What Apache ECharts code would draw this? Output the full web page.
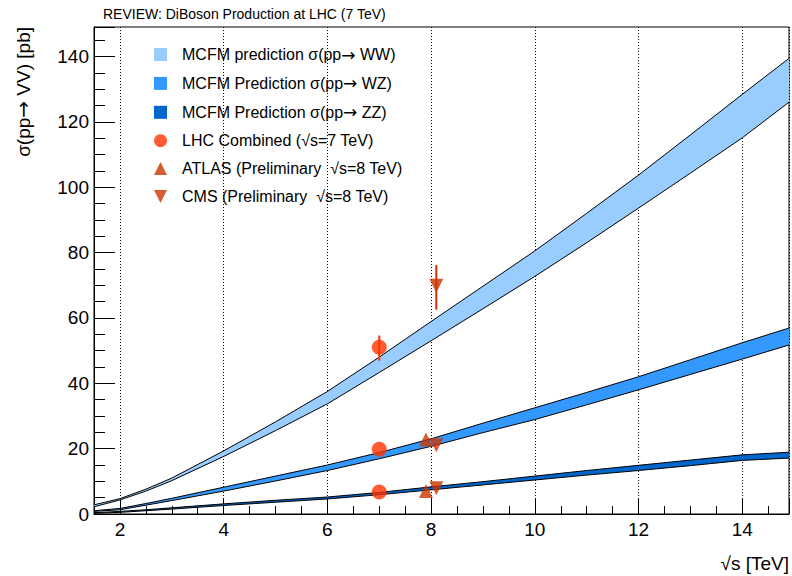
<!DOCTYPE html>
<html>
<head>
<meta charset="utf-8">
<script src="https://cdn.jsdelivr.net/npm/echarts@6/dist/echarts.min.js"></script>
<style>
  html, body { margin: 0; padding: 0; background: #fff; }
  #chart { width: 792px; height: 576px; }
</style>
</head>
<body>
<div id="chart"></div>
<script>
var energies = [1.5, 2, 2.5, 3, 4, 5, 6, 7, 8, 9, 10, 11, 12, 13, 14, 14.9];

var wwHigh = [2.8, 4.7, 7.6, 11.0, 19.3, 28.2, 37.5, 48.0, 58.9, 69.7, 80.5, 92.0, 103.7, 116.0, 128.4, 139.4];
var wwLow  = [2.2, 4.3, 7.0, 10.2, 17.6, 25.5, 33.7, 43.3, 53.0, 62.8, 72.7, 83.0, 93.6, 104.3, 115.1, 126.0];

var wzHigh = [1.0, 1.7, 3.2, 4.8, 8.2, 11.6, 15.0, 18.8, 23.0, 27.8, 32.5, 37.2, 42.0, 47.2, 52.4, 56.9];
var wzLow  = [0.8, 1.3, 2.7, 4.1, 7.0, 10.1, 13.3, 16.9, 20.7, 24.9, 28.9, 33.4, 38.0, 42.7, 47.4, 51.7];

var zzHigh = [0.4, 0.8, 1.3, 1.9, 3.1, 4.2, 5.2, 6.6, 8.3, 9.9, 11.6, 13.3, 14.9, 16.5, 18.1, 18.9];
var zzLow  = [0.2, 0.5, 1.0, 1.5, 2.6, 3.6, 4.6, 5.9, 7.4, 8.9, 10.4, 11.9, 13.3, 14.8, 16.4, 17.1];

// measurements [sqrt(s), sigma]
var lhcPoints   = [[7, 51.0], [7, 19.8], [7, 6.7]];
var atlasPoints = [[7.9, 22.8], [7.9, 7.0]];
var cmsPoints   = [[8.1, 69.8], [8.1, 21.0], [8.1, 7.9]];

// error bars [sqrt(s), low, high]
var lhcErrors = [[7, 46.9, 54.6]];
var cmsErrors = [[8.1, 62.5, 76.2]];

var names = {
  ww: 'MCFM prediction σ(pp→ WW)',
  wz: 'MCFM Prediction σ(pp→ WZ)',
  zz: 'MCFM Prediction σ(pp→ ZZ)',
  lhc: 'LHC Combined (√s=7 TeV)',
  atlas: 'ATLAS (Preliminary  √s=8 TeV)',
  cms: 'CMS (Preliminary  √s=8 TeV)'
};

var font = "'Liberation Sans', Arial, Helvetica, sans-serif";
var arrowFont = "'DejaVu Sans', sans-serif";
var downTri = 'path://M0,0L10,0L5,10Z';

// filled area between the lower and upper edge
function band(name, color, lo, hi) {
  return {
    name: name,
    type: 'custom',
    z: 2,
    silent: true,
    itemStyle: { color: color },
    data: [[energies[0], lo[0]]],
    renderItem: function (params, api) {
      var pts = [];
      for (var i = 0; i < energies.length; i++) pts.push(api.coord([energies[i], hi[i]]));
      for (var j = energies.length - 1; j >= 0; j--) pts.push(api.coord([energies[j], lo[j]]));
      return { type: 'polygon', shape: { points: pts }, style: { fill: color, stroke: null } };
    }
  };
}

function edge(name, vals) {
  return {
    name: name,
    type: 'line',
    z: 3,
    silent: true,
    symbol: 'none',
    lineStyle: { color: '#000', width: 1 },
    data: energies.map(function (e, i) { return [e, vals[i]]; })
  };
}

function errors(name, color, rows) {
  return {
    name: name,
    type: 'custom',
    z: 4,
    silent: true,
    data: rows,
    renderItem: function (params, api) {
      var a = api.coord([api.value(0), api.value(1)]);
      var b = api.coord([api.value(0), api.value(2)]);
      return { type: 'line', shape: { x1: a[0], y1: a[1], x2: b[0], y2: b[1] }, style: { stroke: color, lineWidth: 2 } };
    }
  };
}

function richArrow(text) {
  return text.replace('→', '{a|→}');
}

var chart = echarts.init(document.getElementById('chart'), null, { renderer: 'svg' });
chart.setOption({
  animation: false,
  textStyle: { fontFamily: font },
  title: {
    text: 'REVIEW: DiBoson Production at LHC (7 TeV)',
    left: 103, top: 7, padding: 0,
    textStyle: { fontSize: 14, fontWeight: 'normal', color: '#000', fontFamily: font }
  },
  grid: {
    left: 94, right: 3, top: 27, bottom: 62,
    show: true, borderColor: '#000', borderWidth: 1
  },
  legend: {
    orient: 'vertical',
    left: 149, top: 41,
    itemWidth: 13, itemHeight: 13, itemGap: 11.9,
    selectedMode: false,
    itemStyle: { borderWidth: 0 },
    formatter: richArrow,
    textStyle: {
      fontSize: 16, lineHeight: 16, color: '#000', fontFamily: font, padding: [0, 0, 0, 10],
      rich: { a: { fontFamily: arrowFont, fontSize: 17, lineHeight: 12, color: '#000' } }
    },
    data: [
      { name: names.ww, icon: 'rect' },
      { name: names.wz, icon: 'rect' },
      { name: names.zz, icon: 'rect' },
      { name: names.lhc, icon: 'circle' },
      { name: names.atlas, icon: 'triangle' },
      { name: names.cms, icon: downTri }
    ]
  },
  xAxis: {
    type: 'value',
    min: 1.5, max: 14.9,
    splitNumber: 7,
    axisLine: { lineStyle: { color: '#000', width: 1 } },
    axisTick: { inside: true, length: 15, lineStyle: { color: '#000' } },
    minorTick: { show: true, splitNumber: 4, length: 8, lineStyle: { color: '#000' } },
    axisLabel: {
      fontSize: 19, color: '#000', margin: 6, fontFamily: font,
      formatter: function (v) { return v % 2 === 0 ? String(v) : ''; }
    },
    splitLine: { show: true, lineStyle: { color: '#000', width: 1, type: [1, 2] } }
  },
  yAxis: {
    type: 'value',
    min: 0, max: 149, interval: 20,
    axisLine: { show: true, lineStyle: { color: '#000', width: 1 } },
    axisTick: { show: true, inside: true, length: 21, lineStyle: { color: '#000' } },
    minorTick: { show: true, splitNumber: 4, length: 11, lineStyle: { color: '#000' } },
    axisLabel: {
      fontSize: 19, color: '#000', margin: 5, fontFamily: font,
      formatter: function (v) { return v % 20 === 0 ? String(v) : ''; }
    },
    splitLine: { show: false }
  },
  graphic: [
    {
      type: 'text', x: 23, y: 27, rotation: Math.PI / 2,
      style: {
        text: richArrow('σ(pp→ VV) [pb]'), font: '19px ' + font, fill: '#000', align: 'right', verticalAlign: 'middle',
        rich: { a: { fontFamily: arrowFont, fontSize: 20, fill: '#000' } }
      }
    },
    {
      type: 'text', x: 789, y: 563,
      style: { text: '√s [TeV]', font: '19px ' + font, fill: '#000', align: 'right', verticalAlign: 'middle' }
    }
  ],
  series: [
    band(names.ww, '#99ccff', wwLow, wwHigh),
    band(names.wz, '#3399ff', wzLow, wzHigh),
    band(names.zz, '#0066cc', zzLow, zzHigh),
    edge('ww-high', wwHigh), edge('ww-low', wwLow),
    edge('wz-high', wzHigh), edge('wz-low', wzLow),
    edge('zz-high', zzHigh), edge('zz-low', zzLow),
    errors('lhc-err', '#ff3300', lhcErrors),
    errors('cms-err', '#cc3300', cmsErrors),
    {
      name: names.lhc, type: 'scatter', z: 5, symbol: 'circle', symbolSize: 15,
      itemStyle: { color: '#ff3300' }, data: lhcPoints
    },
    {
      name: names.atlas, type: 'scatter', z: 5, symbol: 'triangle', symbolSize: 14,
      itemStyle: { color: '#cc3300' }, data: atlasPoints
    },
    {
      name: names.cms, type: 'scatter', z: 5, symbol: downTri, symbolSize: 14,
      itemStyle: { color: '#cc3300' }, data: cmsPoints
    }
  ]
});
window.addEventListener('resize', function () { chart.resize(); });
</script>
</body>
</html>
